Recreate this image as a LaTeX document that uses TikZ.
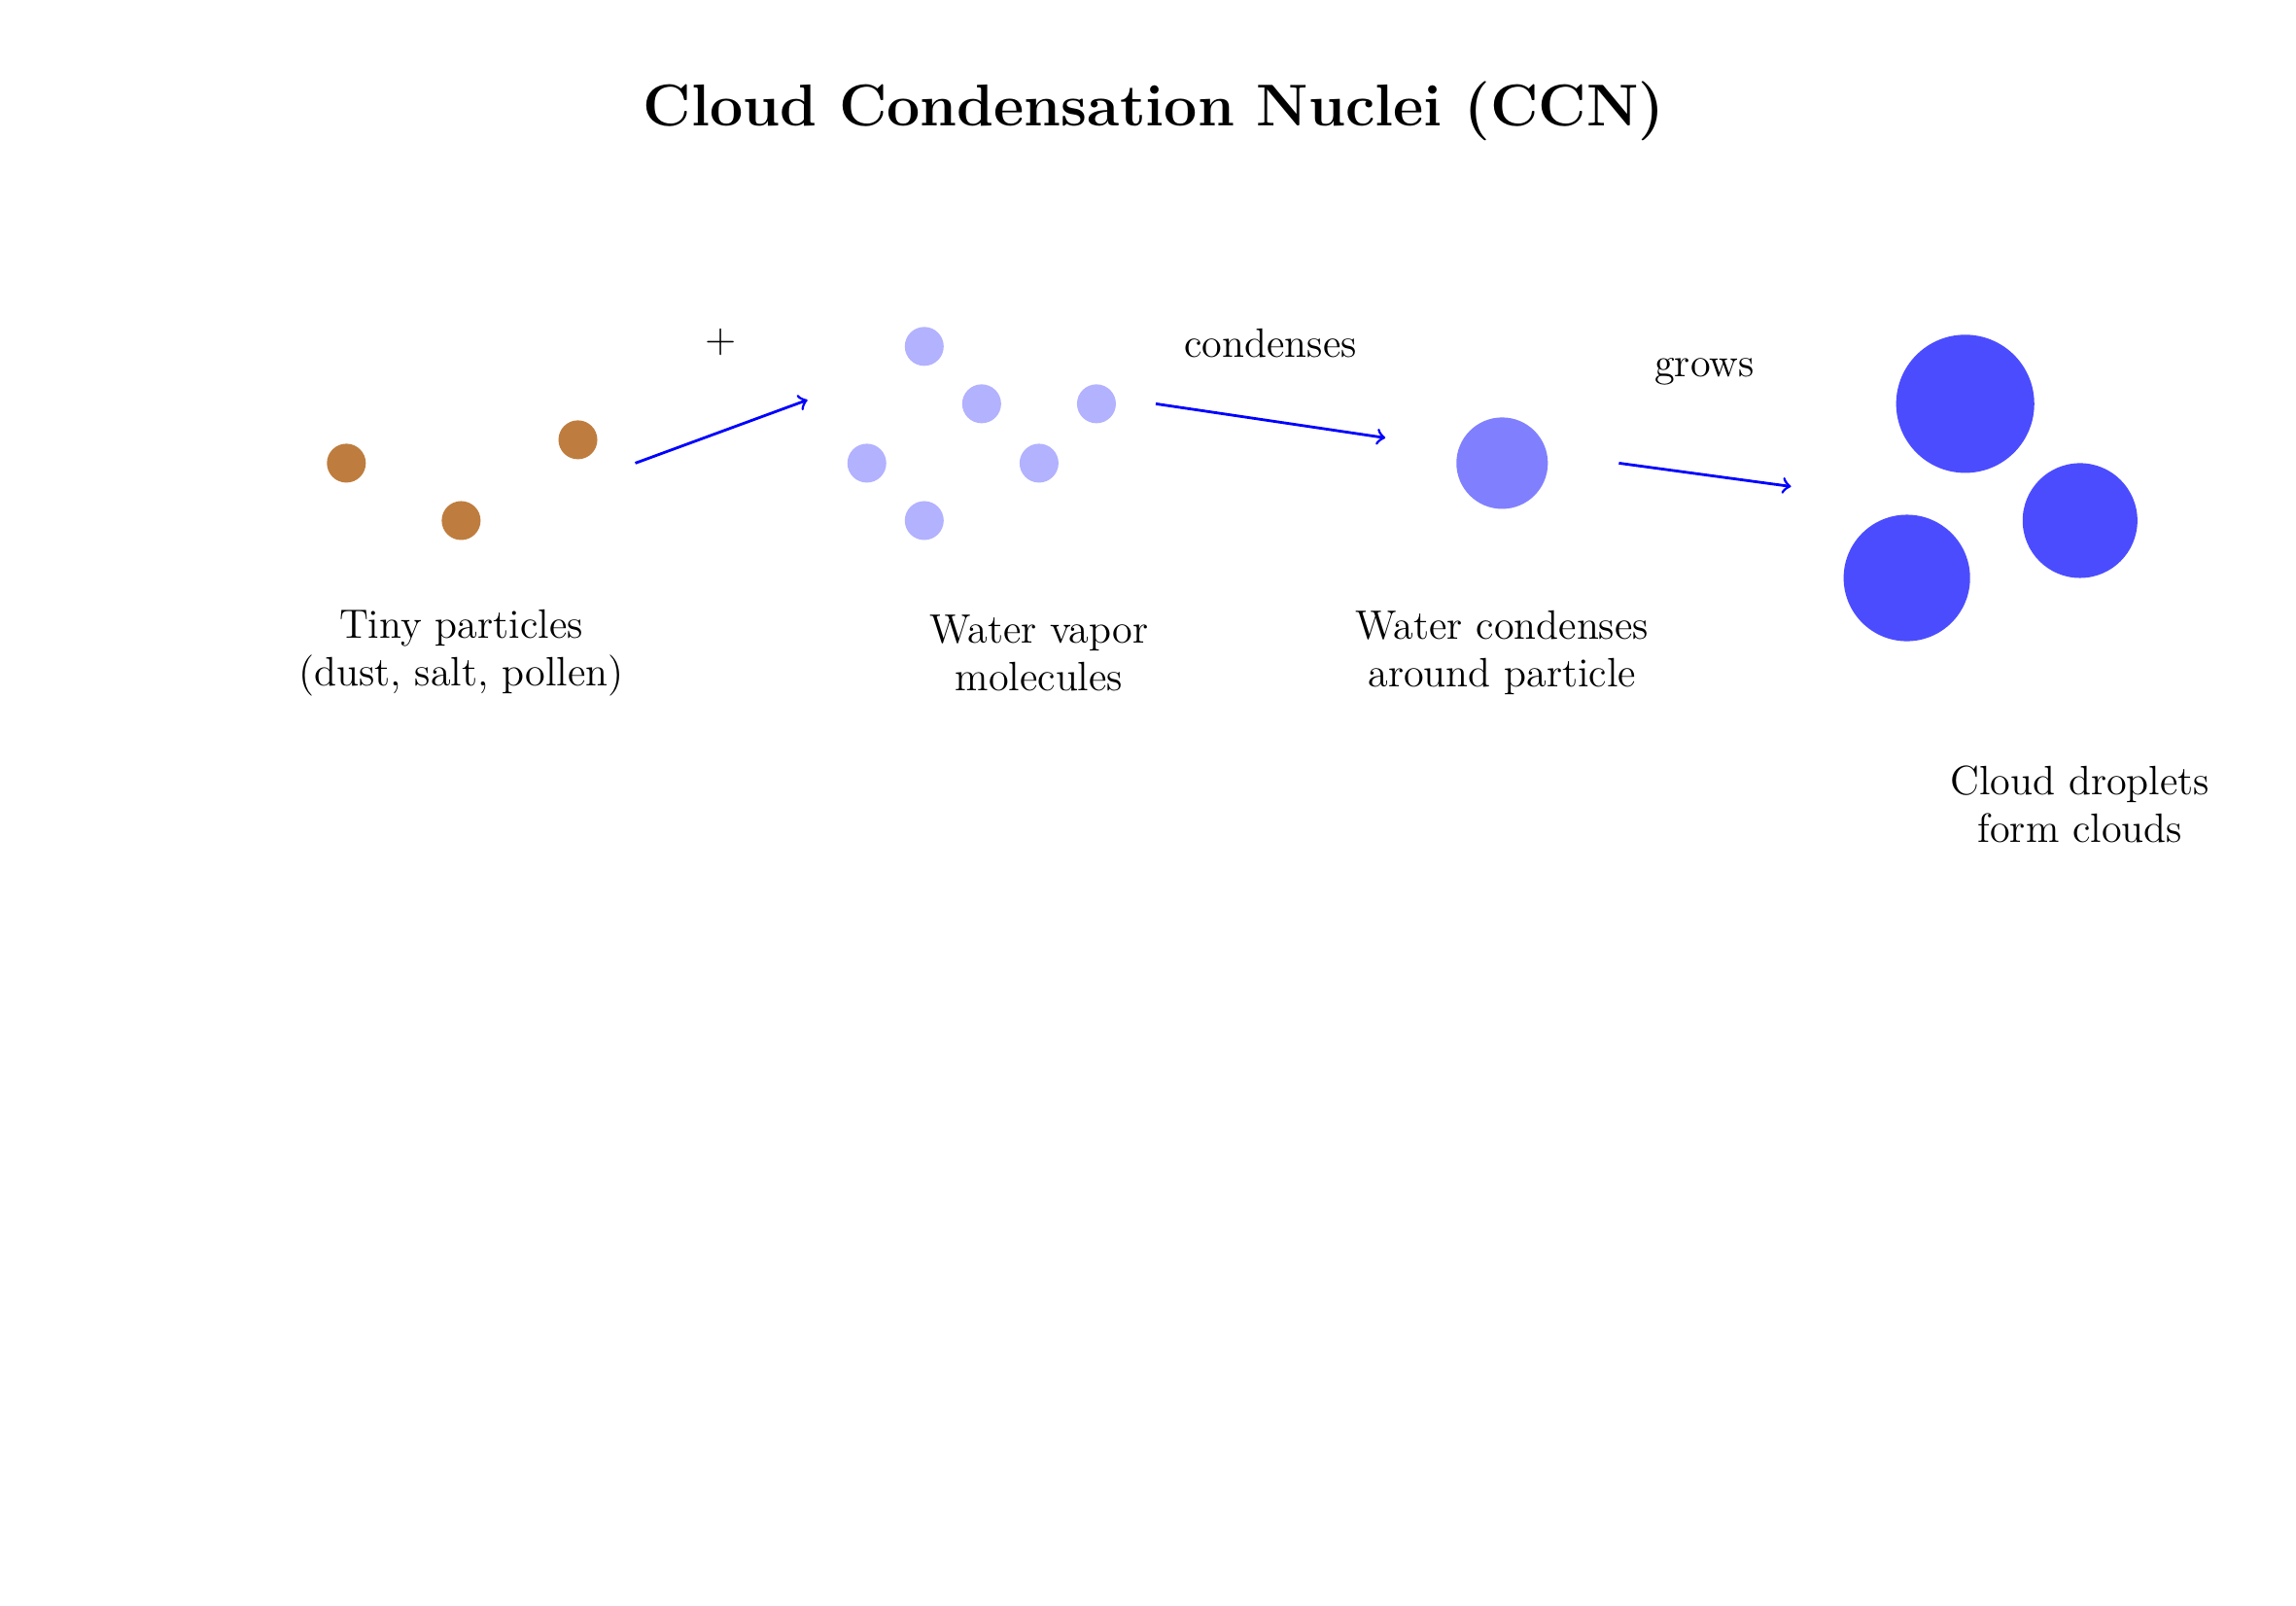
\documentclass[tikz,border=0pt]{standalone}
\usetikzlibrary{positioning}
\definecolor{dustbrown}{RGB}{190,125,62}
\tikzset{
  particle/.style={circle, fill=dustbrown, inner sep=0pt, minimum size=0.4cm},
  vapor/.style={circle, fill=blue!30, inner sep=0pt, minimum size=0.4cm},
  drop/.style={circle, fill=blue!70, inner sep=0pt},
  flow/.style={->, blue, thick},
  caption/.style={align=center, font=\large}
}
\begin{document}
\begin{tikzpicture}
  \useasboundingbox (0,0) rectangle (23.6,-16.5);

  \node[font=\LARGE\bfseries] (title) at (11.86,-1.14) {Cloud Condensation Nuclei (CCN)};

  % tiny particles
  \node[particle] (p1) at (3.56,-4.76) {};
  \node[particle] (p2) at (4.74,-5.35) {};
  \node[particle] (p3) at (5.94,-4.52) {};
  \node[caption] (ptext) at (4.74,-6.71) {Tiny particles\\(dust, salt, pollen)};

  % water vapor
  \node[vapor] (v1) at (9.5,-3.56) {};
  \node[vapor] (v2) at (10.09,-4.15) {};
  \node[vapor] (v3) at (11.27,-4.15) {};
  \node[vapor] (v4) at (8.91,-4.76) {};
  \node[vapor] (v5) at (10.68,-4.76) {};
  \node[vapor] (v6) at (9.5,-5.35) {};
  \node[caption] (vtext) at (10.68,-6.71) {Water vapor\\molecules};

  % condensed droplet
  \node[circle, fill=blue!50, inner sep=0pt, minimum size=0.94cm] (core) at (15.44,-4.76) {};
  \node[caption] (ctext) at (15.44,-6.71) {Water condenses\\around particle};

  % cloud droplets
  \node[drop, minimum size=1.42cm] (d1) at (20.2,-4.15) {};
  \node[drop, minimum size=1.18cm] (d2) at (21.38,-5.35) {};
  \node[drop, minimum size=1.3cm] (d3) at (19.6,-5.94) {};
  \node[caption] (dtext) at (21.38,-8.27) {Cloud droplets\\form clouds};

  % arrows
  \coordinate (a1s) at (6.53,-4.76);
  \coordinate (a1e) at (8.30,-4.11);
  \coordinate (a2s) at (11.88,-4.15);
  \coordinate (a2e) at (14.24,-4.5);
  \coordinate (a3s) at (16.64,-4.76);
  \coordinate (a3e) at (18.41,-5.0);
  \draw[flow] (a1s) -- (a1e);
  \draw[flow] (a2s) -- (a2e);
  \draw[flow] (a3s) -- (a3e);
  \node[font=\large] (plus) at (7.41,-3.52) {+};
  \node[font=\large] (cond) at (13.06,-3.53) {condenses};
  \node[font=\large] (grow) at (17.52,-3.82) {grows};
\end{tikzpicture}
\end{document}
